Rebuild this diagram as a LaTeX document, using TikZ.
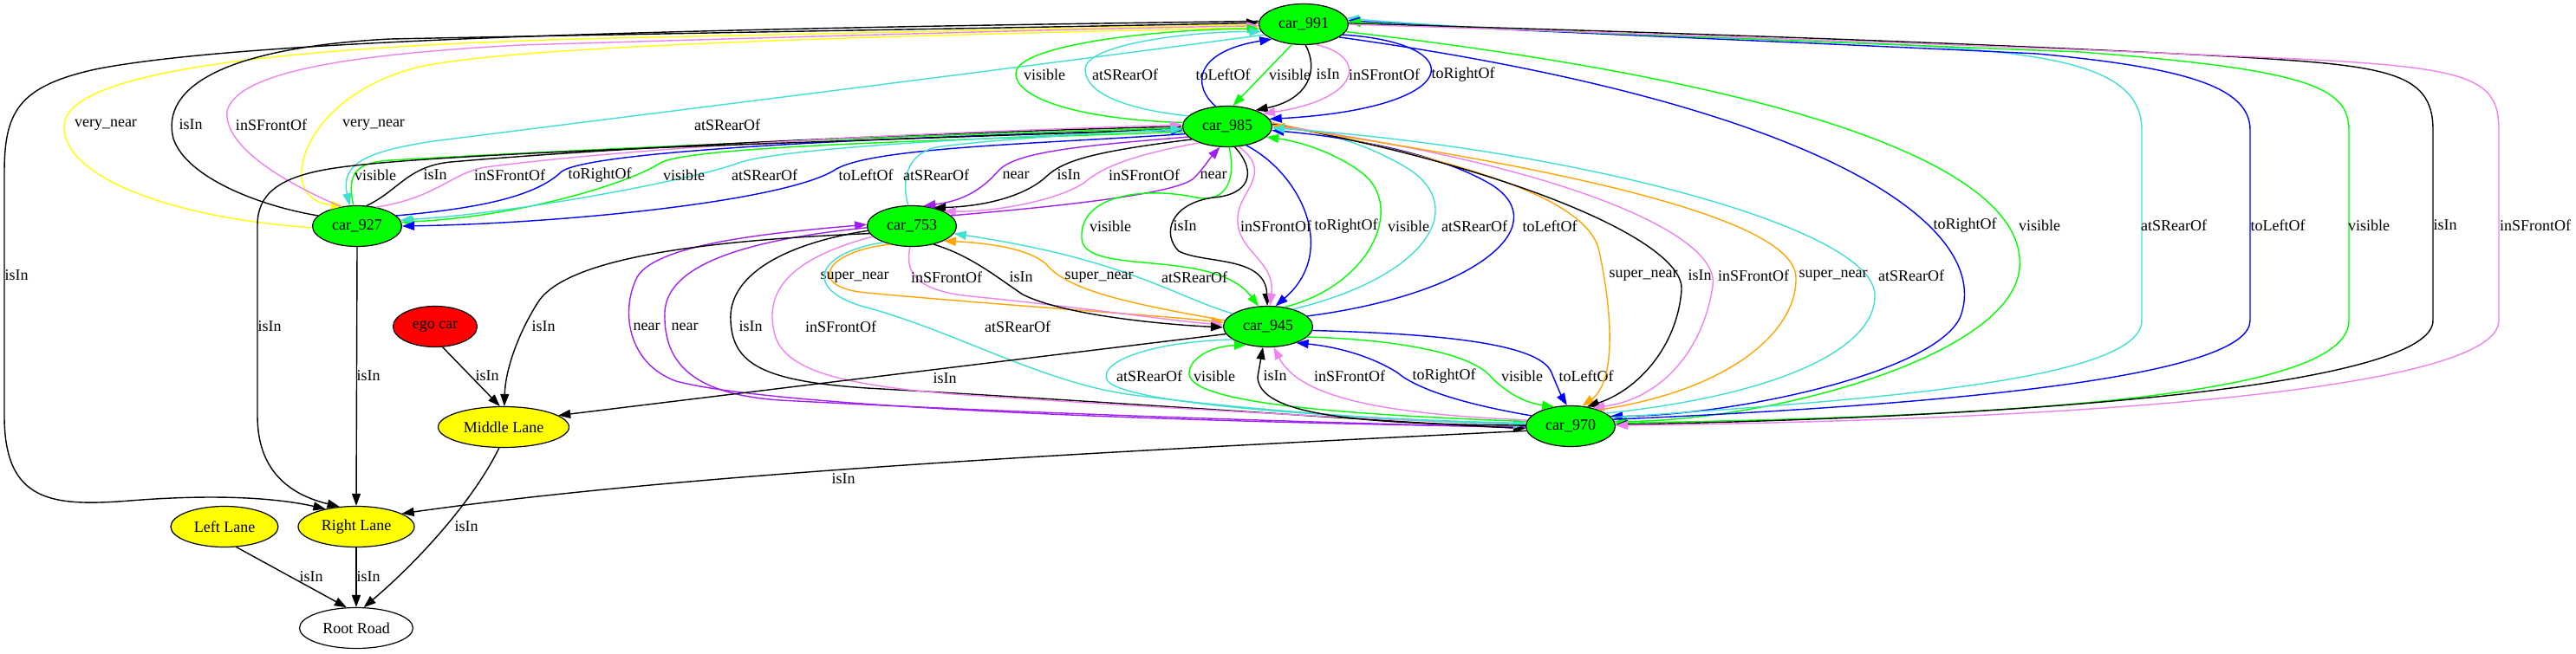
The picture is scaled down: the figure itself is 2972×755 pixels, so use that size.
\documentclass[tikz,border=0pt]{standalone}
\usepackage{fontspec}
\setmainfont{Liberation Serif}
\usetikzlibrary{shapes.geometric,arrows.meta}
\definecolor{cgreen}{HTML}{00FF00}
\definecolor{cviolet}{HTML}{EE82EE}
\definecolor{cturq}{HTML}{40E0D0}
\definecolor{cpurple}{HTML}{A020F0}
\definecolor{corange}{HTML}{FFA500}
\definecolor{cyellow}{HTML}{FFFF00}
\definecolor{cblue}{HTML}{0000FF}
\definecolor{cred}{HTML}{FF0000}
\begin{document}
\begin{tikzpicture}[x=0.5pt,y=-0.5pt,
  every node/.style={font=\fontsize{9}{10}\selectfont},
  obj/.style={ellipse,draw=black,line width=0.6pt,minimum width=51.5pt,minimum height=23.5pt,inner sep=0pt},
  car/.style={obj,fill=cgreen},
  lab/.style={inner sep=0pt},
  rel/.style={line width=0.7pt,-{Triangle[length=7pt,width=5pt]}},
  isin/.style={rel,draw=black},
  vis/.style={rel,draw=cgreen},
  front/.style={rel,draw=cviolet},
  rear/.style={rel,draw=cturq},
  rgt/.style={rel,draw=cblue},
  lft/.style={rel,draw=cblue},
  vnear/.style={rel,draw=cyellow},
  nr/.style={rel,draw=cpurple},
  snear/.style={rel,draw=corange}]
\useasboundingbox (0,0) rectangle (2972,755);
\fill[white] (0,0) rectangle (2972,755);

% nodes
\node[car] (n991) at (1504,28) {car\_991};
\node[car] (n985) at (1416,146) {car\_985};
\node[car] (n927) at (412,261) {car\_927};
\node[car] (n753) at (1052,261) {car\_753};
\node[car] (n945) at (1463,377) {car\_945};
\node[car] (n970) at (1812,492) {car\_970};
\node[obj,fill=cred,minimum width=48.5pt] (ego) at (502,377) {ego car};
\node[obj,fill=cyellow,minimum width=75.5pt] (mid) at (581,493) {Middle Lane};
\node[obj,fill=cyellow,minimum width=67pt] (rl) at (411,608) {Right Lane};
\node[obj,fill=cyellow,minimum width=62pt] (ll) at (259,608) {Left Lane};
\node[obj,fill=white,minimum width=65.5pt] (root) at (411,725) {Root Road};

% ---- car_991 / car_927 and far left
\draw[vnear] (n927.182) .. controls (200,252) and (72,205) .. (74,145) .. controls (76,85) and (300,52) .. (750,43) .. controls (1100,36) and (1350,30) .. (n991.180);
\draw[vnear] (n991.184) .. controls (1100,40) and (600,50) .. (480,78) .. controls (380,105) and (345,170) .. (348,205) .. controls (350,225) and (365,235) .. (n927.125);
\draw[isin] (n927.165) .. controls (300,238) and (215,205) .. (200,160) .. controls (185,100) and (260,55) .. (450,45) .. controls (900,36) and (1300,30) .. (n991.178);
\draw[front] (n927.130) .. controls (315,205) and (258,165) .. (262,128) .. controls (275,80) and (420,62) .. (600,52) .. controls (1000,40) and (1300,32) .. (n991.182);
\draw[rear] (n991.195) .. controls (1200,75) and (800,125) .. (500,163) .. controls (420,175) and (393,190) .. (n927.110);
\draw[isin] (n991.176) .. controls (900,32) and (300,42) .. (110,80) .. controls (20,100) and (5,130) .. (5,200) -- (5,480) .. controls (5,580) and (60,585) .. (150,578) .. controls (250,570) and (320,575) .. (rl.150);
\node[lab] (l1) at (122,144) {very\_near};
\node[lab] (l2) at (220,144) {isIn};
\node[lab] (l3) at (313,144) {inSFrontOf};
\node[lab] (l4) at (431,144) {very\_near};
\node[lab] (l5) at (839,144) {atSRearOf};
\node[lab] (l6) at (19,318) {isIn};

% ---- car_991 / car_985
\draw[vis] (n985.175) .. controls (1250,138) and (1172,115) .. (1172,85) .. controls (1172,50) and (1350,33) .. (n991.186);
\draw[rear] (n985.165) .. controls (1290,125) and (1252,105) .. (1252,80) .. controls (1252,50) and (1380,36) .. (n991.190);
\draw[lft] (n985.120) .. controls (1376,100) and (1376,60) .. (n991.205);
\draw[vis] (n991.240) -- (n985.75);
\draw[isin] (n991.275) .. controls (1522,80) and (1510,115) .. (n985.30);
\draw[front] (n991.300) .. controls (1580,65) and (1570,115) .. (n985.20);
\draw[rgt] (n991.345) .. controls (1700,50) and (1690,125) .. (n985.10);
\node[lab] (l7) at (1205,86) {visible};
\node[lab] (l8) at (1298,86) {atSRearOf};
\node[lab] (l9) at (1411,86) {toLeftOf};
\node[lab] (l10) at (1488,86) {visible};
\node[lab] (l11) at (1532,86) {isIn};
\node[lab] (l12) at (1597,86) {inSFrontOf};
\node[lab] (l13) at (1688,86) {toRightOf};

% ---- car_991 / car_970
\draw[rgt] (n991.340) .. controls (2100,120) and (2300,260) .. (2262,365) .. controls (2235,430) and (2000,480) .. (n970.14);
\draw[vis] (n991.350) .. controls (2100,100) and (2340,200) .. (2330,310) .. controls (2320,410) and (2050,485) .. (n970.6);
\draw[rear] (n970.12) .. controls (2150,462) and (2471,440) .. (2471,370) -- (2471,150) .. controls (2471,80) and (2380,62) .. (2200,52) .. controls (1900,40) and (1700,34) .. (n991.8);
\draw[lft] (n970.9) .. controls (2300,465) and (2596,430) .. (2596,370) -- (2596,150) .. controls (2596,100) and (2520,78) .. (2350,62) .. controls (2000,45) and (1700,34) .. (n991.5);
\draw[vis] (n970.4) .. controls (2400,480) and (2710,450) .. (2710,370) -- (2710,150) .. controls (2710,100) and (2660,80) .. (2400,60) .. controls (2000,44) and (1700,33) .. (n991.3);
\draw[isin] (n991.1) .. controls (1800,34) and (2200,46) .. (2550,64) .. controls (2750,75) and (2807,80) .. (2807,150) -- (2807,370) .. controls (2807,440) and (2400,480) .. (n970.2);
\draw[front] (n991.0) .. controls (1800,36) and (2300,52) .. (2650,68) .. controls (2850,78) and (2883,90) .. (2883,150) -- (2883,370) .. controls (2883,450) and (2400,485) .. (n970.1);
\node[lab] (l14) at (2267,260) {toRightOf};
\node[lab] (l15) at (2353,260) {visible};
\node[lab] (l16) at (2508,260) {atSRearOf};
\node[lab] (l17) at (2628,260) {toLeftOf};
\node[lab] (l18) at (2733,260) {visible};
\node[lab] (l19) at (2821,260) {isIn};
\node[lab] (l20) at (2925,260) {inSFrontOf};

% ---- car_927 / car_985
\draw[vis] (n927.100) .. controls (400,200) and (410,188) .. (450,185) .. controls (800,165) and (1200,152) .. (n985.182);
\draw[isin] (n927.65) .. controls (460,220) and (470,192) .. (520,187) .. controls (800,163) and (1200,150) .. (n985.180);
\draw[front] (n927.45) .. controls (505,228) and (520,200) .. (560,193) .. controls (800,162) and (1200,149) .. (n985.178);
\draw[rgt] (n927.15) .. controls (560,240) and (620,225) .. (648,198) .. controls (690,168) and (1200,153) .. (n985.185);
\draw[vis] (n985.187) .. controls (1100,162) and (800,168) .. (762,188) .. controls (725,212) and (600,250) .. (n927.5);
\draw[rear] (n985.184) .. controls (1100,160) and (900,172) .. (852,188) .. controls (810,205) and (600,246) .. (n927.8);
\draw[lft] (n985.190) .. controls (1200,166) and (1010,170) .. (965,195) .. controls (910,232) and (650,258) .. (n927.0);
\draw[isin] (n985.183) .. controls (1000,163) and (500,175) .. (380,195) .. controls (320,205) and (297,225) .. (297,260) -- (297,480) .. controls (297,540) and (330,570) .. (rl.130);
\node[lab] (l21) at (433,202) {visible};
\node[lab] (l22) at (502,202) {isIn};
\node[lab] (l23) at (588,202) {inSFrontOf};
\node[lab] (l24) at (692,202) {toRightOf};
\node[lab] (l25) at (789,202) {visible};
\node[lab] (l26) at (882,202) {atSRearOf};
\node[lab] (l27) at (999,202) {toLeftOf};
\node[lab] (l28) at (311,377) {isIn};

% ---- car_753 / car_985
\draw[rear] (n753.100) .. controls (1040,210) and (1045,178) .. (1080,170) .. controls (1150,160) and (1300,152) .. (n985.183);
\draw[nr] (n985.195) .. controls (1250,168) and (1172,175) .. (1152,197) .. controls (1132,220) and (1110,232) .. (n753.60);
\draw[isin] (n985.200) .. controls (1262,175) and (1228,185) .. (1208,203) .. controls (1185,225) and (1140,238) .. (n753.40);
\draw[front] (n985.210) .. controls (1300,180) and (1270,195) .. (1252,210) .. controls (1225,230) and (1150,245) .. (n753.25);
\draw[nr] (n753.15) .. controls (1200,240) and (1360,225) .. (1378,205) .. controls (1388,195) and (1394,185) .. (n985.250);
\node[lab] (l29) at (1080,202) {atSRearOf};
\node[lab] (l30) at (1172,202) {near};
\node[lab] (l31) at (1233,202) {isIn};
\node[lab] (l32) at (1320,202) {inSFrontOf};
\node[lab] (l33) at (1400,202) {near};

% ---- car_985 / car_945
\draw[vis] (n985.275) .. controls (1425,200) and (1420,235) .. (1380,228) .. controls (1320,215) and (1245,225) .. (1248,275) .. controls (1250,320) and (1400,285) .. (n945.115);
\draw[isin] (n985.290) .. controls (1452,200) and (1440,225) .. (1400,228) .. controls (1350,235) and (1340,270) .. (1360,290) .. controls (1390,305) and (1460,295) .. (n945.92);
\draw[front] (n985.300) .. controls (1470,200) and (1430,220) .. (1428,250) .. controls (1425,290) and (1472,300) .. (n945.85);
\draw[rgt] (n985.315) .. controls (1500,200) and (1545,290) .. (n945.70);
\draw[vis] (n945.50) .. controls (1580,330) and (1622,240) .. (1572,200) .. controls (1535,172) and (1490,162) .. (n985.345);
\draw[rear] (n945.35) .. controls (1645,320) and (1695,240) .. (1625,195) .. controls (1565,158) and (1500,148) .. (n985.0);
\draw[lft] (n945.15) .. controls (1700,340) and (1795,262) .. (1722,214) .. controls (1650,170) and (1520,155) .. (n985.355);
\node[lab] (l34) at (1281,261) {visible};
\node[lab] (l35) at (1367,261) {isIn};
\node[lab] (l36) at (1472,261) {inSFrontOf};
\node[lab] (l37) at (1553,261) {toRightOf};
\node[lab] (l38) at (1625,261) {visible};
\node[lab] (l39) at (1701,261) {atSRearOf};
\node[lab] (l40) at (1788,261) {toLeftOf};

% ---- car_753 / car_945
\draw[snear] (n753.220) .. controls (950,290) and (930,332) .. (1000,338) .. controls (1150,352) and (1350,365) .. (n945.175);
\draw[front] (n753.265) .. controls (1045,310) and (1050,335) .. (1120,342) .. controls (1250,355) and (1350,370) .. (n945.178);
\draw[isin] (n753.320) .. controls (1120,295) and (1150,320) .. (1180,340) .. controls (1230,365) and (1350,375) .. (n945.181);
\draw[snear] (n945.172) .. controls (1300,350) and (1232,335) .. (1207,305) .. controls (1185,285) and (1130,280) .. (n753.335);
\draw[rear] (n945.160) .. controls (1350,340) and (1300,300) .. (n753.350);
\node[lab] (l41) at (986,320) {super\_near};
\node[lab] (l42) at (1092,320) {inSFrontOf};
\node[lab] (l43) at (1178,320) {isIn};
\node[lab] (l44) at (1268,320) {super\_near};
\node[lab] (l45) at (1378,320) {atSRearOf};

% ---- car_753 / car_970
\draw[nr] (n970.181) .. controls (1400,488) and (900,472) .. (780,440) .. controls (725,420) and (715,360) .. (735,320) .. controls (758,280) and (900,268) .. (n753.178);
\draw[nr] (n753.182) .. controls (880,275) and (770,300) .. (767,360) .. controls (765,420) and (800,455) .. (900,462) .. controls (1200,478) and (1500,487) .. (n970.182);
\draw[isin] (n753.186) .. controls (900,282) and (840,320) .. (843,370) .. controls (845,420) and (880,440) .. (1000,448) .. controls (1300,465) and (1600,487) .. (n970.183);
\draw[front] (n753.195) .. controls (905,300) and (880,340) .. (895,390) .. controls (910,430) and (980,445) .. (1100,455) .. controls (1400,475) and (1600,485) .. (n970.178);
\draw[rear] (n753.210) .. controls (940,292) and (925,335) .. (1000,355) .. controls (1100,382) and (1200,440) .. (1300,455) .. controls (1450,475) and (1650,488) .. (n970.177);
\node[lab] (l46) at (746,377) {near};
\node[lab] (l47) at (790,377) {near};
\node[lab] (l48) at (866,377) {isIn};
\node[lab] (l49) at (970,377) {inSFrontOf};
\node[lab] (l50) at (1174,377) {atSRearOf};

% ---- car_945 / car_970
\draw[rear] (n945.200) .. controls (1320,395) and (1265,420) .. (1278,440) .. controls (1305,470) and (1600,485) .. (n970.176);
\draw[vis] (n970.174) .. controls (1600,480) and (1375,470) .. (1372,432) .. controls (1371,415) and (1395,400) .. (n945.220);
\draw[isin] (n970.179) .. controls (1560,490) and (1452,478) .. (1451,435) -- (n945.256);
\draw[front] (n970.172) .. controls (1600,478) and (1500,460) .. (n945.285);
\draw[rgt] (n970.165) .. controls (1680,465) and (1632,447) .. (1612,430) .. controls (1580,410) and (1540,400) .. (n945.330);
\draw[vis] (n945.345) .. controls (1620,392) and (1700,410) .. (1720,435) .. controls (1740,455) and (1760,465) .. (n970.130);
\draw[lft] (n945.355) .. controls (1650,385) and (1776,395) .. (1790,430) .. controls (1798,450) and (1803,460) .. (n970.100);
\node[lab] (l51) at (1326,434) {atSRearOf};
\node[lab] (l52) at (1401,434) {visible};
\node[lab] (l53) at (1471,434) {isIn};
\node[lab] (l54) at (1557,434) {inSFrontOf};
\node[lab] (l55) at (1666,434) {toRightOf};
\node[lab] (l56) at (1756,434) {visible};
\node[lab] (l57) at (1830,434) {toLeftOf};

% ---- car_985 / car_970
\draw[snear] (n985.5) .. controls (1650,180) and (1830,220) .. (1845,290) .. controls (1860,360) and (1865,440) .. (n970.60);
\draw[isin] (n985.3) .. controls (1750,195) and (1945,280) .. (1940,335) .. controls (1935,400) and (1890,450) .. (n970.50);
\draw[front] (n985.2) .. controls (1800,190) and (1986,270) .. (1976,330) .. controls (1966,400) and (1920,460) .. (n970.40);
\draw[snear] (n970.30) .. controls (2000,450) and (2074,380) .. (2072,320) .. controls (2070,240) and (1700,180) .. (n985.1);
\draw[rear] (n970.20) .. controls (2060,455) and (2165,400) .. (2163,340) .. controls (2160,260) and (1800,170) .. (n985.358);
\node[lab] (l58) at (1896,318) {super\_near};
\node[lab] (l59) at (1961,318) {isIn};
\node[lab] (l60) at (2023,318) {inSFrontOf};
\node[lab] (l61) at (2115,318) {super\_near};
\node[lab] (l62) at (2205,318) {atSRearOf};

% ---- lanes
\draw[isin] (n927.south) -- (rl.north);
\draw[isin] (ego.290) -- (mid.100);
\draw[isin] (n753.190) .. controls (800,278) and (650,300) .. (620,350) .. controls (595,390) and (583,430) .. (mid.88);
\draw[isin] (n945.190) -- (mid.12);
\draw[isin] (n970.186) .. controls (1300,520) and (800,545) .. (rl.16);
\draw[isin] (ll.300) -- (root.115);
\draw[isin] (rl.south) -- (root.north);
\draw[isin] (mid.258) .. controls (545,580) and (480,650) .. (root.70);
\node[lab] (l63) at (425,434) {isIn};
\node[lab] (l64) at (562,434) {isIn};
\node[lab] (l65) at (627,377) {isIn};
\node[lab] (l66) at (1090,437) {isIn};
\node[lab] (l67) at (973,553) {isIn};
\node[lab] (l68) at (359,666) {isIn};
\node[lab] (l69) at (425,666) {isIn};
\node[lab] (l70) at (538,608) {isIn};
\end{tikzpicture}
\end{document}
